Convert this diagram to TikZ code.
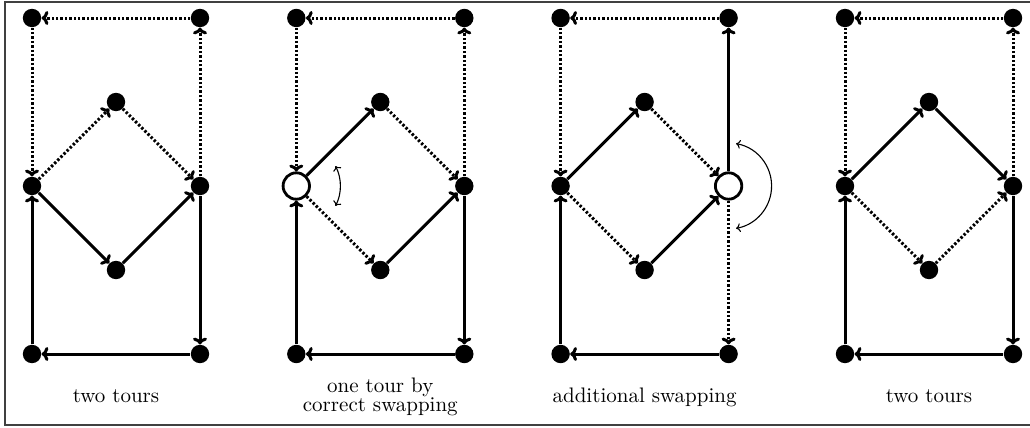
\documentclass[tikz,border=0pt]{standalone}
\usetikzlibrary{arrows.meta,calc}
\begin{document}
\begin{tikzpicture}[x=0.5pt,y=-0.5pt,
  dotn/.style={circle, fill=black, minimum size=9.2pt, inner sep=0pt},
  hole/.style={circle, draw=black, fill=white, line width=1.4pt, minimum size=13.2pt, inner sep=0pt},
  edgesol/.style={line width=1.5pt, -{To[length=3.4pt,width=7pt]}},
  edgedot/.style={edgesol, dash pattern=on 1.2pt off 1.0pt},
  swaparc/.style={line width=0.55pt, {To[length=2.2pt,width=4.4pt]}-{To[length=2.2pt,width=4.4pt]}},
  lbl/.style={anchor=base, font=\fontsize{10.5}{9.4}\selectfont, align=center, inner sep=0pt}]
\useasboundingbox (0,0) rectangle (1030,428);
\draw[line width=0.6pt, black!75] (5,2) rectangle (1034,425);
\foreach \i/\x/\mls/\mrs in {1/32/dotn/dotn, 2/296.3/hole/dotn, 3/560.6/dotn/hole, 4/845/dotn/dotn}{
  \node[dotn] (p\i-tl) at (\x,18) {};
  \node[dotn] (p\i-tr) at (\x+168,18) {};
  \node[dotn] (p\i-t) at (\x+84,102) {};
  \node[\mls] (p\i-ml) at (\x,186) {};
  \node[\mrs] (p\i-mr) at (\x+168,186) {};
  \node[dotn] (p\i-b) at (\x+84,270) {};
  \node[dotn] (p\i-bl) at (\x,354) {};
  \node[dotn] (p\i-br) at (\x+168,354) {};
}
% panel 1
\draw[edgedot] (p1-tr) -- (p1-tl);
\draw[edgedot] (p1-tl) -- (p1-ml);
\draw[edgedot] (p1-ml) -- (p1-t);
\draw[edgedot] (p1-t) -- (p1-mr);
\draw[edgedot] (p1-mr) -- (p1-tr);
\draw[edgesol] (p1-ml) -- (p1-b);
\draw[edgesol] (p1-b) -- (p1-mr);
\draw[edgesol] (p1-mr) -- (p1-br);
\draw[edgesol] (p1-br) -- (p1-bl);
\draw[edgesol] (p1-bl) -- (p1-ml);
% panel 2
\draw[edgedot] (p2-tr) -- (p2-tl);
\draw[edgedot] (p2-tl) -- (p2-ml);
\draw[edgedot] (p2-t) -- (p2-mr);
\draw[edgedot] (p2-mr) -- (p2-tr);
\draw[edgedot] (p2-ml) -- (p2-b);
\draw[edgesol] (p2-ml) -- (p2-t);
\draw[edgesol] (p2-b) -- (p2-mr);
\draw[edgesol] (p2-mr) -- (p2-br);
\draw[edgesol] (p2-br) -- (p2-bl);
\draw[edgesol] (p2-bl) -- (p2-ml);
% panel 3
\draw[edgedot] (p3-tr) -- (p3-tl);
\draw[edgedot] (p3-tl) -- (p3-ml);
\draw[edgedot] (p3-t) -- (p3-mr);
\draw[edgedot] (p3-ml) -- (p3-b);
\draw[edgedot] (p3-mr) -- (p3-br);
\draw[edgesol] (p3-ml) -- (p3-t);
\draw[edgesol] (p3-mr) -- (p3-tr);
\draw[edgesol] (p3-b) -- (p3-mr);
\draw[edgesol] (p3-br) -- (p3-bl);
\draw[edgesol] (p3-bl) -- (p3-ml);
% panel 4
\draw[edgedot] (p4-tr) -- (p4-tl);
\draw[edgedot] (p4-tl) -- (p4-ml);
\draw[edgedot] (p4-mr) -- (p4-tr);
\draw[edgedot] (p4-ml) -- (p4-b);
\draw[edgedot] (p4-b) -- (p4-mr);
\draw[edgesol] (p4-ml) -- (p4-t);
\draw[edgesol] (p4-t) -- (p4-mr);
\draw[edgesol] (p4-mr) -- (p4-br);
\draw[edgesol] (p4-br) -- (p4-bl);
\draw[edgesol] (p4-bl) -- (p4-ml);
% swap arcs
\coordinate (s2a) at ($(p2-ml)+(27:22pt)$);
\coordinate (s3a) at ($(p3-mr)+(80:21.5pt)$);
\draw[swaparc] (s2a) arc[start angle=27, end angle=-27, radius=22pt];
\draw[swaparc] (s3a) arc[start angle=80, end angle=-80, radius=21.5pt];
% labels
\node[lbl] (l1) at (116,402.5) {two tours};
\node[lbl, anchor=north] (l2) at (380.3,378) {one tour by\\correct swapping};
\node[lbl] (l3) at (644.6,402.5) {additional swapping};
\node[lbl] (l4) at (929,402.5) {two tours};
\end{tikzpicture}
\end{document}
